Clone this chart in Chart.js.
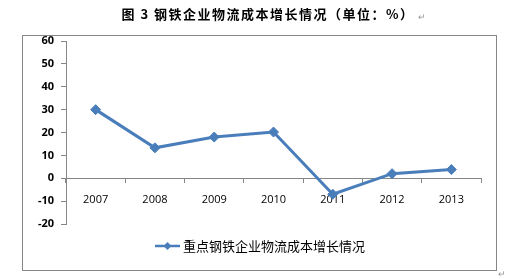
<!DOCTYPE html>
<html lang="zh">
<head>
    <meta charset="UTF-8">
    <title>钢铁企业物流成本增长情况</title>
    <script src="https://cdn.jsdelivr.net/npm/chart.js"></script>
    <style>
        html, body {
            margin: 0;
            padding: 0;
            background: #fff;
        }
    </style>
</head>
<body>
    <canvas id="costChart" width="505" height="279"></canvas>
<script>
    // Chart data
    const years = ['2007', '2008', '2009', '2010', '2011', '2012', '2013'];
    const growth = [30, 13.3, 18, 20.2, -7, 2, 3.8];
    const yMin = -20;
    const yMax = 60;
    const yStep = 10;

    const chartTitle = '图 3 钢铁企业物流成本增长情况（单位：%）';
    const seriesName = '重点钢铁企业物流成本增长情况';

    const lineColor = '#4A7EBB';
    const axisColor = '#868686';
    const cjkFont = '"Noto Sans CJK SC", "Noto Sans", sans-serif';

    Chart.defaults.font.family = '"Open Sans", "Noto Sans", sans-serif';
    Chart.defaults.color = '#000';

    // Frame, title and legend drawn like the Word/Excel figure
    const figurePlugin = {
        id: 'figure',
        beforeDraw(chart) {
            const ctx = chart.ctx;
            ctx.save();
            ctx.fillStyle = '#fff';
            ctx.fillRect(0, 0, chart.width, chart.height);
            ctx.strokeStyle = axisColor;
            ctx.lineWidth = 1;
            ctx.strokeRect(22.5, 35.5, 474, 235);
            ctx.restore();
        },
        afterDraw(chart) {
            const ctx = chart.ctx;
            const ds = chart.data.datasets[0];
            ctx.save();

            // title
            ctx.font = 'bold 13px ' + cjkFont;
            ctx.letterSpacing = '1.5px';
            ctx.fillStyle = '#000';
            ctx.textBaseline = 'middle';
            ctx.textAlign = 'center';
            const tw = ctx.measureText(chartTitle).width;
            ctx.fillText(chartTitle, 268, 14);
            ctx.letterSpacing = '0px';
            ctx.font = '9px ' + cjkFont;
            ctx.fillStyle = '#999';
            ctx.textAlign = 'left';
            ctx.fillText('↵', 268 + tw / 2 + 3, 17);
            ctx.fillText('↵', 498, 274);

            // legend
            const ly = 246;
            ctx.strokeStyle = ds.borderColor;
            ctx.lineWidth = 2.5;
            ctx.beginPath();
            ctx.moveTo(155, ly);
            ctx.lineTo(180, ly);
            ctx.stroke();
            ctx.fillStyle = ds.pointBackgroundColor;
            ctx.beginPath();
            ctx.moveTo(167.5, ly - 4);
            ctx.lineTo(171.5, ly);
            ctx.lineTo(167.5, ly + 4);
            ctx.lineTo(163.5, ly);
            ctx.closePath();
            ctx.fill();
            ctx.font = '13px ' + cjkFont;
            ctx.fillStyle = '#000';
            ctx.fillText(ds.label, 183, ly);
            ctx.restore();
        }
    };

    const ctx = document.getElementById('costChart').getContext('2d');
    const costChart = new Chart(ctx, {
        type: 'line',
        data: {
            labels: years,
            datasets: [{
                label: seriesName,
                data: growth,
                borderColor: lineColor,
                backgroundColor: lineColor,
                pointBackgroundColor: lineColor,
                pointBorderColor: lineColor,
                borderWidth: 3,
                pointStyle: 'rectRot',
                pointRadius: 5,
                pointBorderWidth: 1,
                tension: 0
            }]
        },
        options: {
            responsive: false,
            animation: false,
            layout: {
                padding: { left: 0, right: 24, top: 41, bottom: 55 }
            },
            plugins: {
                legend: { display: false },
                title: { display: false },
                tooltip: { enabled: false }
            },
            scales: {
                x: {
                    position: { y: 0 },
                    offset: true,
                    grid: {
                        offset: true,
                        drawOnChartArea: false,
                        drawTicks: true,
                        tickLength: 4,
                        color: axisColor
                    },
                    border: { display: true, color: axisColor, width: 1 },
                    ticks: {
                        padding: 11,
                        font: { size: 11 },
                        color: '#000'
                    }
                },
                y: {
                    min: yMin,
                    max: yMax,
                    ticks: {
                        stepSize: yStep,
                        padding: 7,
                        font: { size: 11, weight: 'bold' },
                        color: '#000'
                    },
                    grid: {
                        drawOnChartArea: false,
                        drawTicks: true,
                        tickLength: 5,
                        color: axisColor
                    },
                    border: { display: true, color: axisColor, width: 1 },
                    afterFit(scale) {
                        scale.width = 66;
                    }
                }
            }
        },
        plugins: [figurePlugin]
    });
</script>
</body>
</html>
